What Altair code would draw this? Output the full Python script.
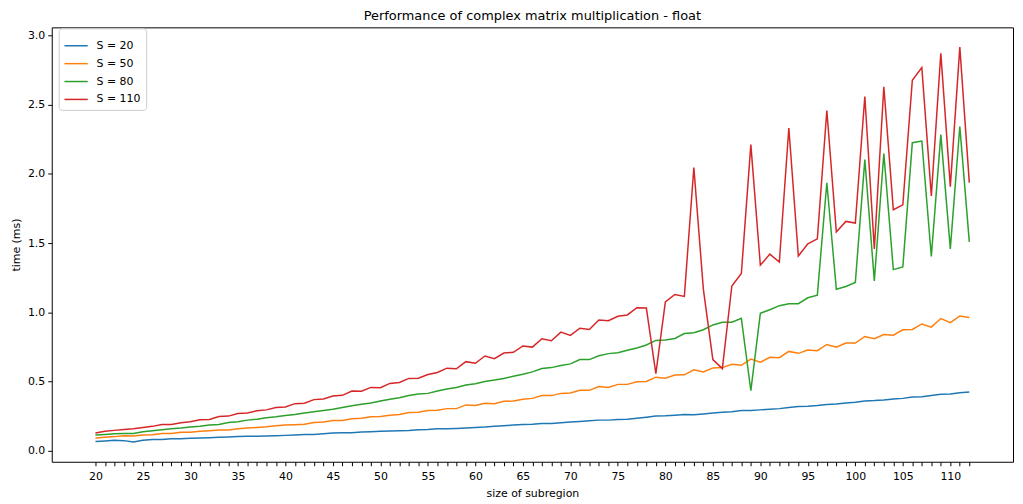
import altair as alt
import pandas as pd

sizes = list(range(20, 113))

s20 = [0.067, 0.072, 0.076, 0.074, 0.064, 0.076, 0.083, 0.083, 0.088, 0.088,
       0.091, 0.093, 0.095, 0.098, 0.100, 0.103, 0.105, 0.105, 0.107, 0.110,
       0.112, 0.115, 0.119, 0.119, 0.124, 0.129, 0.131, 0.131, 0.136, 0.138,
       0.141, 0.143, 0.146, 0.148, 0.153, 0.155, 0.160, 0.160, 0.162, 0.165,
       0.169, 0.172, 0.177, 0.181, 0.186,
       0.191, 0.193, 0.198, 0.198, 0.203,
       0.208, 0.212, 0.217, 0.222, 0.222, 0.227, 0.229, 0.236, 0.243, 0.251,
       0.253, 0.258, 0.263, 0.260, 0.267, 0.274, 0.279, 0.282, 0.291, 0.291,
       0.296, 0.301, 0.305, 0.313, 0.320, 0.322, 0.327, 0.334, 0.339, 0.346,
       0.351, 0.360, 0.363, 0.368, 0.375, 0.379, 0.389, 0.391, 0.399, 0.408,
       0.410, 0.420, 0.425]

s50 = [0.093, 0.098, 0.103, 0.110, 0.107, 0.115, 0.117, 0.126, 0.126, 0.134,
       0.134, 0.141, 0.146, 0.150, 0.150, 0.160, 0.165, 0.169, 0.174, 0.181,
       0.186, 0.189, 0.193, 0.205, 0.208, 0.220, 0.220, 0.232, 0.236, 0.246,
       0.248, 0.258, 0.263, 0.277, 0.279, 0.291, 0.294, 0.305, 0.305, 0.332,
       0.327, 0.344, 0.341, 0.358, 0.360,
       0.372, 0.379, 0.399, 0.399, 0.415,
       0.418, 0.437, 0.437, 0.465, 0.458, 0.480, 0.480, 0.499, 0.501, 0.532,
       0.525, 0.547, 0.549, 0.585, 0.570, 0.599, 0.601, 0.625, 0.618, 0.663,
       0.640, 0.675, 0.673, 0.718, 0.704, 0.728, 0.723, 0.768, 0.749, 0.778,
       0.778, 0.826, 0.809, 0.840, 0.835, 0.874, 0.876, 0.916, 0.893, 0.955,
       0.926, 0.974, 0.962]

s80 = [0.115, 0.119, 0.124, 0.126, 0.126, 0.138, 0.146, 0.153, 0.160, 0.165,
       0.172, 0.177, 0.186, 0.191, 0.205, 0.210, 0.222, 0.229, 0.239, 0.246,
       0.255, 0.263, 0.274, 0.282, 0.291, 0.301, 0.313, 0.325, 0.337, 0.346,
       0.360, 0.372, 0.384, 0.399, 0.410, 0.415, 0.432, 0.446, 0.458, 0.475,
       0.485, 0.501, 0.511, 0.523, 0.539,
       0.553, 0.570, 0.594, 0.601, 0.616,
       0.628, 0.659, 0.659, 0.687, 0.702, 0.709, 0.726, 0.742, 0.764, 0.797,
       0.800, 0.811, 0.847, 0.852, 0.874, 0.909, 0.928, 0.928, 0.957, 0.434,
       0.993, 1.019, 1.048, 1.062, 1.062, 1.105, 1.124, 1.935, 1.167, 1.186,
       1.215, 2.103, 1.227, 2.146, 1.308, 1.327, 2.224, 2.236, 1.403, 2.282,
       1.458, 2.341, 1.508]

s110 = [0.129, 0.141, 0.148, 0.155, 0.160, 0.169, 0.177, 0.191, 0.191, 0.203,
        0.210, 0.224, 0.227, 0.248, 0.251, 0.270, 0.274, 0.289, 0.296, 0.313,
        0.317, 0.341, 0.344, 0.370, 0.375, 0.396, 0.401, 0.432, 0.430, 0.458,
        0.456, 0.487, 0.494, 0.523, 0.525, 0.551, 0.566, 0.597, 0.592, 0.644,
        0.632, 0.685, 0.666, 0.706, 0.711,
        0.757, 0.749, 0.809, 0.795, 0.857,
        0.833, 0.885, 0.876, 0.945, 0.940, 0.971, 0.981, 1.033, 1.031, 0.558,
        1.076, 1.129, 1.115, 2.045, 1.167, 0.659, 0.594, 1.190, 1.280, 2.210,
        1.340, 1.420, 1.363, 2.330, 1.406, 1.494, 1.530, 2.456, 1.580, 1.656,
        1.644, 2.558, 1.458, 2.628, 1.740, 1.776, 2.675, 2.766, 1.840, 2.869,
        1.907, 2.914, 1.936]

series_names = ["S = 20", "S = 50", "S = 80", "S = 110"]
series_values = [s20, s50, s80, s110]
colors = ["#1f77b4", "#ff7f0e", "#2ca02c", "#d62728"]

rows = []
for name, vals in zip(series_names, series_values):
    for x, v in zip(sizes, vals):
        rows.append({"size": x, "time": v, "series": name})
df = pd.DataFrame(rows)

FONT = "DejaVu Sans"

chart = alt.Chart(df).mark_line(strokeWidth=1.5).encode(
    x=alt.X("size:Q",
            scale=alt.Scale(domain=[15.4, 116.6], nice=False, zero=False),
            axis=alt.Axis(title="size of subregion", values=sizes,
                          labelExpr="datum.value % 5 == 0 ? datum.label : ''",
                          grid=False, domain=False, labelFlush=False,
                          labelOverlap=False, labelPadding=5, titlePadding=6)),
    y=alt.Y("time:Q",
            scale=alt.Scale(domain=[-0.0785, 3.0565], nice=False, zero=False),
            axis=alt.Axis(title="time (ms)", values=[0, 0.5, 1.0, 1.5, 2.0, 2.5, 3.0],
                          format=".1f", grid=False, domain=False, labelFlush=False)),
    color=alt.Color("series:N",
                    scale=alt.Scale(domain=series_names, range=colors),
                    legend=alt.Legend(title=None, orient="none", legendX=7, legendY=1,
                                      symbolType="stroke", symbolSize=550,
                                      symbolStrokeWidth=1.5, rowPadding=0,
                                      labelFontSize=11, labelFont=FONT,
                                      labelColor="#000", padding=5,
                                      strokeColor="#cccccc", fillColor="white",
                                      cornerRadius=3, labelOffset=8)),
    order=alt.Order("size:Q"),
).properties(
    width=967,
    height=437,
    title=alt.TitleParams("Performance of complex matrix multiplication - float",
                          fontSize=13, font=FONT, fontWeight="normal",
                          anchor="middle", offset=4, color="#000"),
    padding={"left": 44, "top": 18, "right": 2, "bottom": 39},
    autosize=alt.AutoSizeParams(type="none"),
).configure_view(
    stroke="#000", strokeWidth=1
).configure_axis(
    labelFont=FONT, labelFontSize=11, labelColor="#000",
    titleFont=FONT, titleFontSize=11, titleFontWeight="normal", titleColor="#000",
    tickColor="#000", tickSize=4, labelPadding=3, titlePadding=5
).configure_axisY(
    titlePadding=6
)

chart.save("out.html", embed_options={"renderer": "svg", "actions": False})
